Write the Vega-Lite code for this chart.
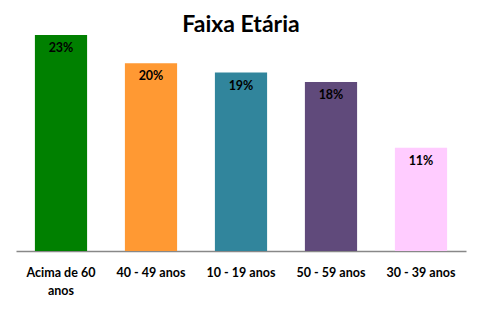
{
  "$schema": "https://vega.github.io/schema/vega-lite/v6.json",
  "width": 450,
  "height": 216,
  "autosize": "none",
  "padding": {"left": 16, "top": 35, "right": 16, "bottom": 62},
  "background": "white",
  "title": {"text": "Faixa Etária", "font": "Lato", "fontSize": 23, "fontWeight": "bold", "color": "black", "offset": -2, "anchor": "middle"},
  "data": {"values": [
    {"faixa": "Acima de 60 anos", "pct": 0.23},
    {"faixa": "40 - 49 anos", "pct": 0.20},
    {"faixa": "10 - 19 anos", "pct": 0.19},
    {"faixa": "50 - 59 anos", "pct": 0.18},
    {"faixa": "30 - 39 anos", "pct": 0.11}
  ]},
  "config": {"view": {"stroke": null}},
  "encoding": {
    "x": {"field": "faixa", "type": "nominal", "sort": null,
      "scale": {"paddingInner": 0.42, "paddingOuter": 0.21},
      "axis": {"title": null, "labelAngle": 0, "ticks": false, "domainColor": "#888888", "domainWidth": 1.5,
        "labelFont": "Lato", "labelFontSize": 12.5, "labelFontWeight": "bold", "labelColor": "black",
        "labelPadding": 21, "labelLineHeight": 18, "labelBaseline": "middle",
        "labelExpr": "datum.label == 'Acima de 60 anos' ? ['Acima de 60', 'anos'] : datum.label"}},
    "y": {"field": "pct", "type": "quantitative", "scale": {"domain": [0, 0.23]}, "axis": null}
  },
  "layer": [
    {"mark": {"type": "bar"},
     "encoding": {"color": {"field": "faixa", "type": "nominal", "legend": null,
       "scale": {"domain": ["Acima de 60 anos", "40 - 49 anos", "10 - 19 anos", "50 - 59 anos", "30 - 39 anos"],
                 "range": ["#008000", "#FF9933", "#31859C", "#604A7B", "#FFCCFF"]}}}},
    {"mark": {"type": "text", "baseline": "middle", "dy": 13, "font": "Lato", "fontSize": 12.5, "fontWeight": "bold", "color": "black"},
     "encoding": {"text": {"field": "pct", "type": "quantitative", "format": ".0%"}}}
  ]
}
